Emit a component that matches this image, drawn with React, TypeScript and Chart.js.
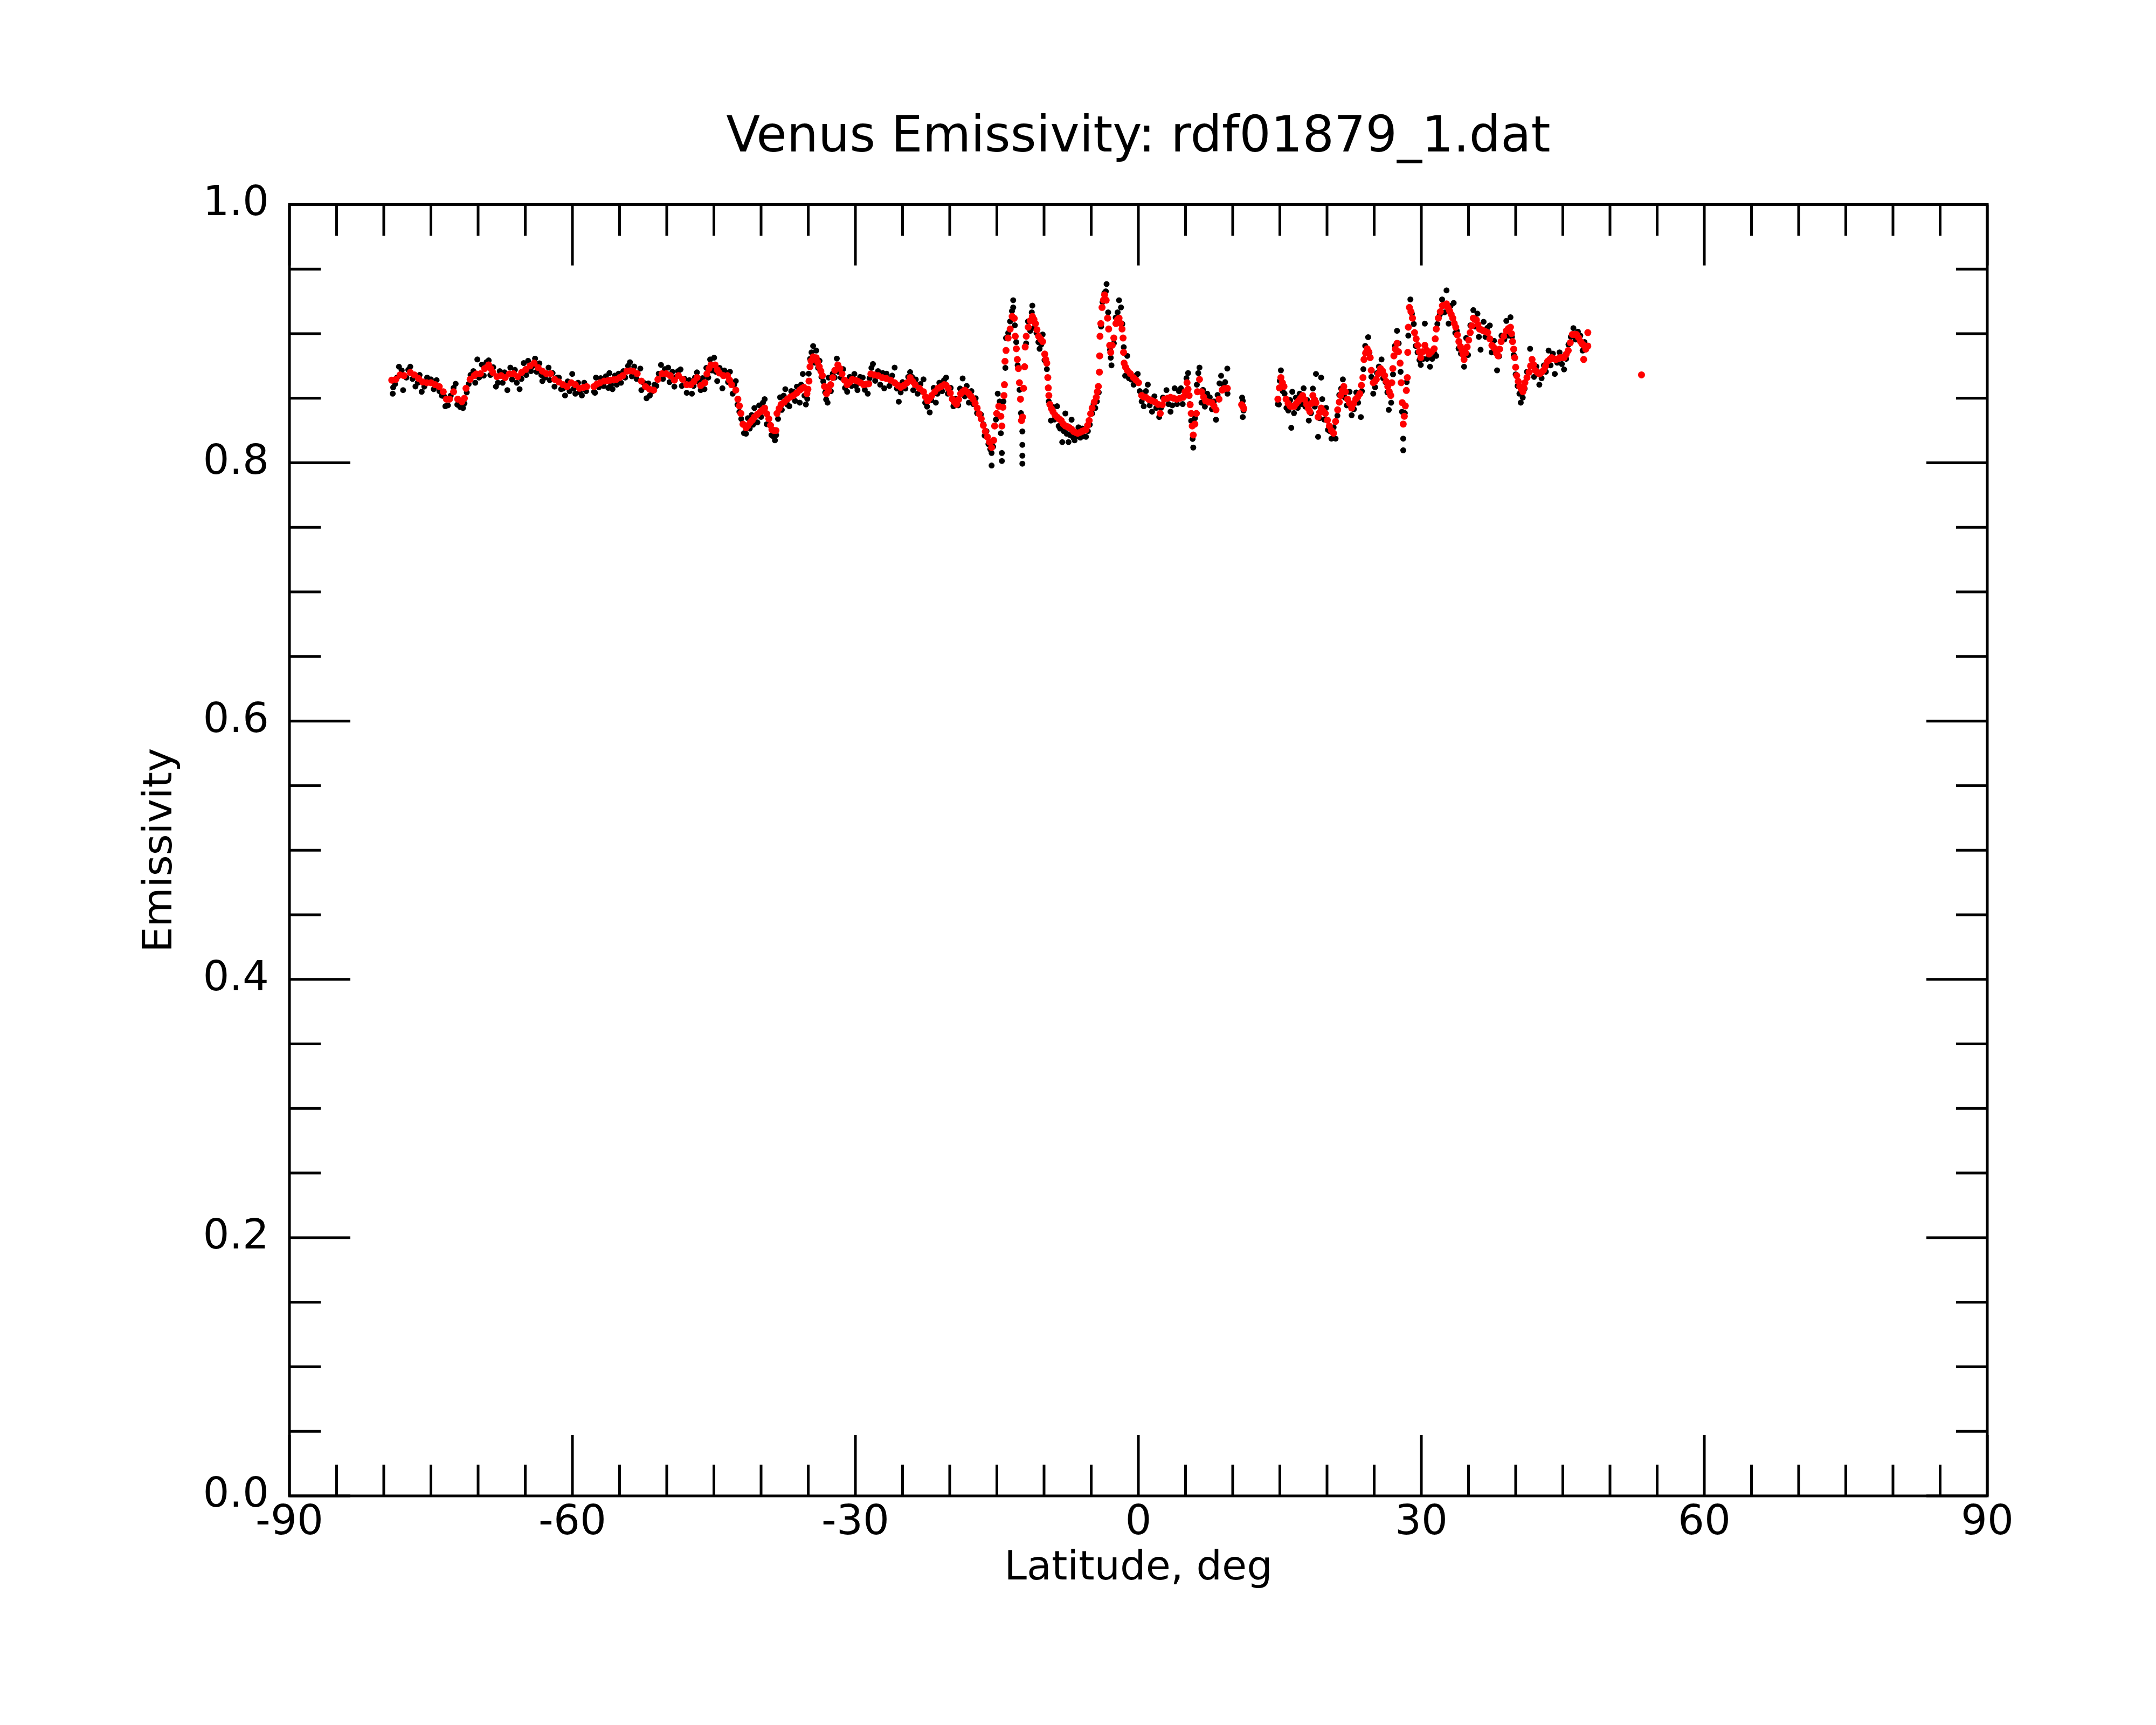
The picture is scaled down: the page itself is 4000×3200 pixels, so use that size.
import { useEffect, useRef } from 'react';
import { Chart, registerables } from 'chart.js';

Chart.register(...registerables);

// latitude (deg), emissivity -- smoothed profile (red)
const smoothA: [number, number][] = [
  [-79.15, 0.864], [-78.72, 0.8646], [-78.28, 0.868], [-77.85, 0.8675], [-77.19, 0.87], [-76.75, 0.868],
  [-76.31, 0.8653], [-75.87, 0.8626], [-75.44, 0.862], [-75.0, 0.862], [-74.56, 0.8605], [-74.12, 0.859],
  [-73.69, 0.855], [-73.36, 0.8493], [-73.03, 0.8493], [-72.6, 0.855], [-72.16, 0.8493], [-71.72, 0.8473],
  [-71.45, 0.85],
  [-71.28, 0.8577], [-70.85, 0.8646], [-70.41, 0.8675], [-70.19, 0.8688], [-69.75, 0.869], [-69.3, 0.873],
  [-68.88, 0.8758], [-68.66, 0.873], [-68.44, 0.87], [-68.0, 0.8667], [-67.56, 0.8675], [-67.13, 0.866],
  [-66.69, 0.8688], [-66.25, 0.869], [-65.8, 0.8667], [-65.38, 0.87], [-64.94, 0.8723], [-64.5, 0.875],
  [-64.06, 0.8772], [-63.63, 0.8737], [-63.19, 0.871], [-62.75, 0.869], [-62.32, 0.869], [-61.88, 0.8646],
  [-61.44, 0.8626], [-61.0, 0.8605], [-60.57, 0.859], [-60.13, 0.862], [-59.69, 0.8605], [-59.25, 0.8577],
  [-58.82, 0.8584], [-58.49, 0.859],
];

const smoothB: [number, number][] = [
  [-57.72, 0.859], [-57.4, 0.861], [-57.07, 0.862], [-56.63, 0.8633], [-56.3, 0.8635], [-55.97, 0.864],
  [-55.65, 0.8643], [-55.32, 0.8646], [-54.99, 0.866], [-54.66, 0.8675], [-54.22, 0.871], [-53.9, 0.8712],
  [-53.57, 0.871], [-53.13, 0.869], [-52.69, 0.8633], [-52.25, 0.859], [-51.82, 0.857], [-51.38, 0.8563],
  [-50.94, 0.8646], [-50.5, 0.869], [-50.07, 0.869], [-49.63, 0.8675], [-49.19, 0.864], [-48.76, 0.8675],
  [-48.32, 0.8646], [-47.88, 0.8605], [-47.44, 0.8605], [-47.1, 0.863], [-46.79, 0.866], [-46.4, 0.8598],
  [-45.96, 0.862], [-45.74, 0.8688], [-45.52, 0.873], [-45.31, 0.8758], [-44.87, 0.8758], [-44.65, 0.872],
  [-44.43, 0.8695], [-43.99, 0.8675], [-43.56, 0.8675], [-43.34, 0.864], [-43.12, 0.8605], [-42.68, 0.8563],
  [-42.46, 0.8493], [-42.3, 0.844], [-42.14, 0.8382], [-41.92, 0.8299], [-41.59, 0.8271], [-41.37, 0.829],
  [-41.15, 0.8313], [-40.93, 0.833], [-40.71, 0.8354], [-40.39, 0.8375], [-40.06, 0.8396], [-39.84, 0.841],
  [-39.62, 0.8424], [-39.4, 0.838], [-39.18, 0.834], [-39.0, 0.829], [-38.85, 0.8257], [-38.63, 0.825],
  [-38.42, 0.825],
  [-38.31, 0.8382], [-38.09, 0.842], [-37.87, 0.8452], [-37.54, 0.847], [-37.21, 0.8493], [-36.88, 0.851],
  [-36.56, 0.8521], [-36.23, 0.854], [-35.9, 0.8563], [-35.69, 0.8575], [-35.47, 0.8584], [-35.14, 0.8535],
  [-35.03, 0.857], [-34.92, 0.8633], [-34.81, 0.8744], [-34.7, 0.879], [-34.48, 0.882], [-34.15, 0.8813],
  [-34.0, 0.878], [-33.83, 0.8744], [-33.66, 0.871], [-33.5, 0.8675], [-33.28, 0.8591], [-33.06, 0.8535],
  [-32.84, 0.856], [-32.62, 0.8605], [-32.4, 0.866], [-32.18, 0.8716], [-31.86, 0.8758], [-31.64, 0.873],
  [-31.42, 0.8688], [-31.15, 0.864], [-30.87, 0.8605], [-30.6, 0.8625], [-30.33, 0.8646], [-30.05, 0.864],
  [-29.78, 0.8633], [-29.45, 0.862], [-29.12, 0.8605], [-28.85, 0.861], [-28.58, 0.8612], [-28.36, 0.8688],
  [-27.97, 0.868], [-27.59, 0.8675], [-27.15, 0.866], [-26.72, 0.8653], [-26.28, 0.864], [-25.84, 0.862],
  [-25.51, 0.86], [-25.19, 0.8584], [-24.86, 0.86], [-24.53, 0.862], [-24.2, 0.866], [-23.93, 0.863],
  [-23.66, 0.8605], [-23.22, 0.8577], [-22.78, 0.855], [-22.56, 0.851], [-22.34, 0.848], [-22.12, 0.85],
  [-21.91, 0.8521], [-21.58, 0.855], [-21.25, 0.8577], [-20.92, 0.859], [-20.59, 0.8605], [-20.38, 0.86],
  [-20.16, 0.8577], [-19.94, 0.854], [-19.72, 0.8493], [-19.5, 0.847], [-19.28, 0.8452], [-19.06, 0.849],
  [-18.84, 0.8535], [-18.63, 0.855], [-18.41, 0.8563], [-18.19, 0.855], [-17.97, 0.8535], [-17.75, 0.8515],
  [-17.53, 0.8493], [-17.31, 0.846], [-17.09, 0.8424], [-16.88, 0.838], [-16.66, 0.834], [-16.44, 0.829],
  [-16.22, 0.8243], [-16.0, 0.82], [-15.78, 0.816], [-15.56, 0.8118], [-15.34, 0.8174], [-15.24, 0.8285],
  [-15.02, 0.8382], [-14.8, 0.8438], [-14.58, 0.836], [-14.47, 0.8285], [-14.36, 0.843], [-14.25, 0.8521],
  [-14.2, 0.8605], [-14.14, 0.8786], [-14.03, 0.887], [-13.81, 0.8966], [-13.59, 0.9036], [-13.38, 0.9133],
  [-13.16, 0.9119], [-13.05, 0.898], [-12.94, 0.8883], [-12.83, 0.88], [-12.72, 0.873], [-12.61, 0.862],
  [-12.5, 0.8493], [-12.39, 0.8327], [-12.28, 0.8354], [-12.17, 0.8577], [-12.06, 0.8744], [-12.0, 0.8897],
];

const smoothC: [number, number][] = [
  [-11.89, 0.898], [-11.68, 0.905], [-11.46, 0.91], [-11.24, 0.9133], [-11.07, 0.911], [-10.91, 0.9078],
  [-10.75, 0.903], [-10.58, 0.898], [-10.37, 0.896], [-10.15, 0.8939], [-9.93, 0.8842], [-9.82, 0.88],
  [-9.71, 0.8772], [-9.6, 0.866], [-9.55, 0.858], [-9.49, 0.8521], [-9.38, 0.8452], [-9.22, 0.842],
  [-9.05, 0.8396], [-8.84, 0.837], [-8.62, 0.8354], [-8.4, 0.834], [-8.18, 0.8327], [-7.96, 0.83],
  [-7.74, 0.8285], [-7.52, 0.828], [-7.3, 0.8271], [-7.08, 0.826], [-6.87, 0.8243], [-6.65, 0.8235],
  [-6.43, 0.8229], [-6.21, 0.8235], [-5.99, 0.8243], [-5.77, 0.825], [-5.55, 0.8257], [-5.38, 0.829],
  [-5.22, 0.8327], [-5.06, 0.838], [-4.9, 0.8424], [-4.68, 0.847], [-4.46, 0.8507], [-4.35, 0.855],
  [-4.24, 0.8591], [-4.13, 0.8702], [-4.1, 0.8828], [-4.07, 0.898], [-3.98, 0.9078], [-3.85, 0.9203],
  [-3.7, 0.926], [-3.58, 0.93], [-3.41, 0.9259], [-3.26, 0.912], [-3.15, 0.9036], [-3.04, 0.891],
  [-2.93, 0.8855], [-2.77, 0.891], [-2.6, 0.8966], [-2.38, 0.9078], [-2.21, 0.911], [-2.05, 0.912],
  [-1.89, 0.908], [-1.73, 0.9036], [-1.62, 0.8966], [-1.57, 0.8855], [-1.51, 0.8772], [-1.35, 0.874],
  [-1.18, 0.8716], [-0.85, 0.869], [-0.52, 0.866], [-0.25, 0.864], [0.02, 0.862], [0.35, 0.8521],
  [0.57, 0.851], [0.79, 0.8507], [1.12, 0.849], [1.45, 0.848], [1.78, 0.847], [2.1, 0.8452],
  [2.32, 0.8382], [2.54, 0.845], [2.76, 0.8493], [3.09, 0.85], [3.41, 0.8507], [3.74, 0.85],
  [4.07, 0.8493], [4.4, 0.85], [4.73, 0.8507], [4.95, 0.855], [5.16, 0.862], [5.27, 0.857],
  [5.38, 0.8521], [5.49, 0.845], [5.6, 0.8382], [5.71, 0.8285], [5.82, 0.8215], [5.99, 0.83],
  [6.15, 0.8382], [6.26, 0.855], [6.48, 0.8646], [6.69, 0.855], [6.91, 0.851], [7.13, 0.848],
  [7.46, 0.847], [7.79, 0.8466], [8.01, 0.844], [8.23, 0.841], [8.55, 0.8493], [8.88, 0.8563],
  [9.1, 0.8575], [9.43, 0.8577],
  [10.95, 0.845], [11.07, 0.8438], [11.18, 0.842],
];

const smoothD: [number, number][] = [
  [14.79, 0.8493], [14.95, 0.858], [15.11, 0.866], [15.27, 0.862], [15.44, 0.8591], [15.66, 0.8493],
  [15.88, 0.846], [16.1, 0.8438], [16.32, 0.8438], [16.53, 0.8438], [16.75, 0.846], [16.97, 0.848],
  [17.19, 0.85], [17.41, 0.8521], [17.63, 0.849], [17.85, 0.8452], [18.02, 0.842], [18.18, 0.8396],
  [18.34, 0.846], [18.5, 0.8521], [18.67, 0.849], [18.83, 0.8466], [19.05, 0.8354], [19.22, 0.839],
  [19.38, 0.8424], [19.6, 0.84], [19.82, 0.8382], [20.04, 0.833], [20.25, 0.8285], [20.47, 0.825],
  [20.69, 0.8229], [20.91, 0.832], [21.13, 0.841], [21.3, 0.847], [21.46, 0.8521], [21.62, 0.856],
  [21.78, 0.8591], [21.95, 0.855], [22.17, 0.8493], [22.39, 0.846], [22.61, 0.8424], [22.83, 0.846],
  [23.05, 0.8493], [23.26, 0.851], [23.48, 0.8535], [23.65, 0.86], [23.81, 0.866], [23.92, 0.88],
  [24.09, 0.885], [24.25, 0.8883], [24.42, 0.886], [24.58, 0.8814], [24.69, 0.8716], [24.9, 0.862],
  [25.07, 0.863], [25.23, 0.8646], [25.45, 0.869], [25.67, 0.873], [25.89, 0.871], [26.11, 0.8675],
  [26.27, 0.863], [26.44, 0.8591], [26.6, 0.855], [26.76, 0.8521], [26.87, 0.862], [26.98, 0.873],
  [27.09, 0.8828], [27.25, 0.888], [27.42, 0.8925], [27.58, 0.886], [27.75, 0.8772], [27.86, 0.862],
  [27.97, 0.8466], [28.08, 0.83], [28.19, 0.836], [28.3, 0.844], [28.41, 0.856], [28.51, 0.866],
  [28.56, 0.8855], [28.62, 0.905], [28.73, 0.9203], [28.9, 0.917], [29.06, 0.912], [29.28, 0.9008],
  [29.45, 0.896], [29.61, 0.891], [29.78, 0.886], [29.94, 0.8814], [30.15, 0.886], [30.37, 0.891],
  [30.59, 0.887], [30.81, 0.8842], [31.08, 0.886], [31.36, 0.8883], [31.47, 0.896], [31.58, 0.9036],
  [31.8, 0.912], [32.01, 0.917], [32.23, 0.9217], [32.45, 0.922], [32.67, 0.923], [32.84, 0.92],
  [33.0, 0.9175], [33.16, 0.915], [33.33, 0.912], [33.49, 0.908], [33.65, 0.905], [33.82, 0.899],
  [33.98, 0.8939], [34.15, 0.89], [34.31, 0.887], [34.42, 0.884], [34.53, 0.88], [34.7, 0.885],
  [34.86, 0.8897], [35.02, 0.895], [35.18, 0.9008], [35.35, 0.906], [35.51, 0.912], [35.67, 0.911],
  [35.84, 0.9106], [36.0, 0.907], [36.17, 0.9036], [36.39, 0.903], [36.6, 0.9022], [36.82, 0.9015],
  [37.04, 0.9008], [37.26, 0.896], [37.48, 0.891], [37.65, 0.8895], [37.81, 0.8883], [37.97, 0.885],
  [38.14, 0.8828], [38.3, 0.888], [38.46, 0.8939], [38.74, 0.898], [39.01, 0.9022], [39.23, 0.904],
  [39.45, 0.905], [39.56, 0.9], [39.67, 0.8939], [39.79, 0.888], [39.9, 0.8814], [40.0, 0.874],
  [40.11, 0.8675], [40.27, 0.863], [40.43, 0.8591], [40.6, 0.857], [40.76, 0.855], [40.87, 0.858],
  [40.98, 0.862], [41.2, 0.866], [41.42, 0.8702], [41.58, 0.875], [41.74, 0.88], [41.9, 0.876],
  [42.07, 0.8716], [42.29, 0.87], [42.51, 0.8688], [42.73, 0.87], [42.95, 0.8716], [43.17, 0.875],
  [43.39, 0.8786], [43.61, 0.88], [43.82, 0.8814], [44.04, 0.8805], [44.26, 0.88], [44.48, 0.8805],
  [44.7, 0.8814], [44.92, 0.8814], [45.13, 0.8814], [45.35, 0.884], [45.57, 0.8869], [45.79, 0.893],
  [46.01, 0.8994], [46.23, 0.8994], [46.45, 0.8994], [46.66, 0.897], [46.88, 0.8939], [47.05, 0.892],
  [47.21, 0.891], [47.21, 0.88], [47.43, 0.888], [47.65, 0.9008], [47.65, 0.8904],
  [53.34, 0.8681],
];

// latitude (deg), emissivity -- raw samples (black)
const rawA: [number, number][] = [
  [-79.05, 0.8535], [-79.0, 0.8584], [-78.8, 0.861], [-78.6, 0.866], [-78.39, 0.8744], [-78.1, 0.8715],
  [-77.95, 0.8563], [-77.6, 0.866], [-77.4, 0.872], [-77.19, 0.8744], [-76.95, 0.865], [-76.64, 0.8591],
  [-76.4, 0.862], [-76.2, 0.868], [-75.98, 0.855], [-75.7, 0.859], [-75.4, 0.866], [-75.0, 0.8646],
  [-74.7, 0.857], [-74.4, 0.864], [-74.1, 0.8555], [-73.85, 0.852], [-73.6, 0.8515], [-73.47, 0.8438],
  [-73.2, 0.8445], [-72.9, 0.852], [-72.6, 0.858], [-72.38, 0.8612], [-72.2, 0.845], [-71.9, 0.8432],
  [-71.6, 0.8424], [-71.45, 0.846],
  [-71.2, 0.8545], [-71.0, 0.861], [-70.8, 0.868], [-70.5, 0.871], [-70.3, 0.862], [-70.08, 0.88],
  [-69.9, 0.866], [-69.6, 0.876], [-69.4, 0.8675], [-69.1, 0.878], [-68.88, 0.8793], [-68.7, 0.868],
  [-68.4, 0.874], [-68.11, 0.859], [-67.9, 0.862], [-67.7, 0.871], [-67.4, 0.862], [-67.2, 0.87],
  [-66.9, 0.8563], [-66.58, 0.8737], [-66.4, 0.8645], [-66.1, 0.872], [-65.9, 0.862], [-65.6, 0.857],
  [-65.4, 0.865], [-65.16, 0.8772], [-64.9, 0.868], [-64.7, 0.879], [-64.4, 0.871], [-64.2, 0.875],
  [-63.96, 0.8807], [-63.8, 0.8705], [-63.5, 0.877], [-63.3, 0.868], [-63.19, 0.8633], [-62.9, 0.866],
  [-62.53, 0.8737], [-62.4, 0.864], [-62.1, 0.8695], [-61.9, 0.859], [-61.6, 0.866], [-61.44, 0.866],
  [-61.2, 0.857], [-61.0, 0.8575], [-60.78, 0.8521], [-60.5, 0.863], [-60.3, 0.8555], [-60.02, 0.8688],
  [-59.85, 0.8575], [-59.69, 0.8535], [-59.4, 0.862], [-59.2, 0.8545], [-59.0, 0.8521], [-58.75, 0.862],
  [-58.55, 0.8555],
];

const rawB: [number, number][] = [
  [-57.7, 0.855], [-57.61, 0.8542], [-57.5, 0.866], [-57.2, 0.8585], [-57.0, 0.8655], [-56.7, 0.8595],
  [-56.45, 0.867], [-56.2, 0.858], [-56.08, 0.8695], [-55.9, 0.8605], [-55.75, 0.857], [-55.5, 0.8675],
  [-55.3, 0.8605], [-55.1, 0.869], [-54.85, 0.862], [-54.6, 0.871], [-54.4, 0.866], [-54.1, 0.875],
  [-53.9, 0.8779], [-53.7, 0.867], [-53.45, 0.8745], [-53.2, 0.865], [-52.8, 0.873], [-52.69, 0.8563],
  [-52.45, 0.862], [-52.14, 0.85], [-51.95, 0.8615], [-51.8, 0.852], [-51.6, 0.855], [-51.3, 0.8605],
  [-51.1, 0.8595], [-50.85, 0.869], [-50.61, 0.8758], [-50.4, 0.865], [-50.2, 0.8725], [-49.85, 0.8737],
  [-49.7, 0.8625], [-49.4, 0.8705], [-49.19, 0.859], [-49.0, 0.8665], [-48.8, 0.871], [-48.54, 0.8723],
  [-48.4, 0.8595], [-48.1, 0.865], [-47.88, 0.8542], [-47.6, 0.864], [-47.33, 0.8535], [-47.15, 0.8595],
  [-47.0, 0.866], [-46.8, 0.87], [-46.6, 0.8625], [-46.4, 0.8563], [-46.2, 0.8655], [-46.0, 0.857],
  [-45.8, 0.8735], [-45.6, 0.866], [-45.4, 0.88], [-45.2, 0.8715], [-44.98, 0.8814], [-44.8, 0.8705],
  [-44.65, 0.8633], [-44.4, 0.8735], [-44.1, 0.8577], [-43.9, 0.8715], [-43.78, 0.8702], [-43.5, 0.8625],
  [-43.3, 0.8705], [-43.01, 0.8535], [-42.85, 0.8605], [-42.68, 0.8633], [-42.5, 0.845], [-42.3, 0.8395],
  [-42.1, 0.834], [-41.81, 0.823], [-41.6, 0.8225], [-41.4, 0.8345], [-41.2, 0.8265], [-41.0, 0.837],
  [-40.85, 0.8295], [-40.71, 0.8424], [-40.39, 0.8313], [-40.2, 0.8445], [-40.0, 0.8355], [-39.8, 0.8465],
  [-39.62, 0.8493], [-39.4, 0.8299], [-39.1, 0.8295], [-38.9, 0.8215], [-38.7, 0.8205], [-38.53, 0.8174],
  [-38.4, 0.8215],
  [-38.2, 0.834], [-37.98, 0.8507], [-37.8, 0.841], [-37.6, 0.852], [-37.43, 0.857], [-37.2, 0.845],
  [-37.0, 0.8438], [-36.8, 0.8555], [-36.56, 0.855], [-36.4, 0.848], [-36.2, 0.859], [-35.9, 0.8466],
  [-35.75, 0.8605], [-35.57, 0.8688], [-35.4, 0.852], [-35.25, 0.8452], [-35.1, 0.8495], [-34.95, 0.869],
  [-34.8, 0.8805], [-34.65, 0.8855], [-34.48, 0.8904], [-34.3, 0.8775], [-34.15, 0.8869], [-33.95, 0.8735],
  [-33.8, 0.879], [-33.6, 0.8665], [-33.4, 0.863], [-33.2, 0.8545], [-33.1, 0.849], [-32.95, 0.8466],
  [-32.84, 0.866], [-32.6, 0.8555], [-32.4, 0.869], [-32.2, 0.866], [-31.97, 0.8807], [-31.8, 0.8705],
  [-31.53, 0.866], [-31.3, 0.8725], [-31.1, 0.858], [-30.87, 0.855], [-30.6, 0.8665], [-30.4, 0.8595],
  [-30.11, 0.8688], [-29.95, 0.8595], [-29.78, 0.8563], [-29.5, 0.8665], [-29.23, 0.866], [-29.0, 0.8565],
  [-28.69, 0.8535], [-28.5, 0.8655], [-28.3, 0.8735], [-28.14, 0.8765], [-27.9, 0.8635], [-27.6, 0.871],
  [-27.37, 0.8605], [-27.1, 0.8695], [-26.94, 0.8577], [-26.7, 0.869], [-26.4, 0.8595], [-26.1, 0.8675],
  [-25.84, 0.8737], [-25.6, 0.8575], [-25.4, 0.8473], [-25.2, 0.8545], [-25.0, 0.8625], [-24.7, 0.8575],
  [-24.4, 0.8665], [-24.2, 0.8702], [-24.0, 0.8665], [-23.87, 0.8563], [-23.6, 0.8645], [-23.4, 0.8535],
  [-23.1, 0.861], [-22.78, 0.8646], [-22.6, 0.8465], [-22.4, 0.8435], [-22.12, 0.839], [-21.95, 0.8485],
  [-21.7, 0.858], [-21.47, 0.8466], [-21.3, 0.8535], [-21.1, 0.862], [-20.8, 0.8555], [-20.6, 0.864],
  [-20.38, 0.866], [-20.2, 0.8535], [-19.9, 0.858], [-19.61, 0.8438], [-19.4, 0.8495], [-19.1, 0.8445],
  [-18.9, 0.8575], [-18.63, 0.8653], [-18.4, 0.8515], [-18.2, 0.8595], [-17.97, 0.8466], [-17.7, 0.8555],
  [-17.5, 0.8455], [-17.25, 0.85], [-17.1, 0.8385], [-16.88, 0.8382], [-16.7, 0.8375], [-16.44, 0.8299],
  [-16.3, 0.821], [-16.1, 0.8245], [-15.9, 0.8145], [-15.7, 0.8105], [-15.56, 0.8076], [-15.56, 0.7979],
  [-15.4, 0.8125], [-15.1, 0.8335], [-14.91, 0.8535], [-14.7, 0.8475], [-14.58, 0.8229], [-14.47, 0.8076],
  [-14.47, 0.8014], [-14.3, 0.8475], [-14.1, 0.8735], [-14.03, 0.8966], [-13.8, 0.9005], [-13.6, 0.9095],
  [-13.4, 0.9175], [-13.27, 0.9259], [-13.27, 0.9203], [-13.1, 0.9065], [-12.95, 0.8935], [-12.8, 0.8755],
  [-12.6, 0.8565], [-12.45, 0.8385], [-12.3, 0.8243], [-12.3, 0.8139], [-12.3, 0.8055], [-12.3, 0.7993],
];

const rawC: [number, number][] = [
  [-11.9, 0.8925], [-11.7, 0.9095], [-11.46, 0.9022], [-11.3, 0.9165], [-11.24, 0.9217], [-11.05, 0.9045],
  [-10.8, 0.9005], [-10.6, 0.8935], [-10.47, 0.8883], [-10.3, 0.8915], [-10.15, 0.8994], [-9.95, 0.8795],
  [-9.7, 0.8725], [-9.5, 0.8475], [-9.27, 0.8327], [-9.1, 0.8435], [-8.9, 0.8335], [-8.62, 0.8438],
  [-8.45, 0.8285], [-8.3, 0.8265], [-8.07, 0.816], [-7.9, 0.8245], [-7.74, 0.8382], [-7.6, 0.8225],
  [-7.41, 0.816], [-7.25, 0.8215], [-7.08, 0.8334], [-6.9, 0.8195], [-6.76, 0.8174], [-6.55, 0.8205],
  [-6.35, 0.8275], [-6.15, 0.8195], [-5.95, 0.8265], [-5.75, 0.8205], [-5.55, 0.8201], [-5.35, 0.8245],
  [-5.15, 0.8295], [-4.9, 0.8382], [-4.75, 0.8455], [-4.57, 0.8424], [-4.4, 0.8475], [-4.2, 0.8545],
  [-3.95, 0.9055], [-3.8, 0.9245], [-3.6, 0.9315], [-3.45, 0.9328], [-3.37, 0.9384], [-3.2, 0.9165],
  [-3.0, 0.8875], [-2.93, 0.8814], [-2.85, 0.8755], [-2.6, 0.8925], [-2.4, 0.9125], [-2.2, 0.9165],
  [-2.05, 0.9259], [-1.84, 0.9203], [-1.7, 0.9075], [-1.55, 0.8895], [-1.4, 0.8674], [-1.18, 0.8828],
  [-1.0, 0.8655], [-0.75, 0.8645], [-0.5, 0.8605], [-0.25, 0.8675], [-0.07, 0.8688], [0.15, 0.8555],
  [0.35, 0.8475], [0.57, 0.8438], [0.8, 0.8555], [1.0, 0.8605], [1.2, 0.8445], [1.45, 0.8396],
  [1.7, 0.8515], [1.9, 0.8425], [2.21, 0.8354], [2.4, 0.8425], [2.6, 0.8505], [2.98, 0.8563],
  [3.2, 0.8455], [3.41, 0.8396], [3.6, 0.8445], [3.85, 0.8577], [4.1, 0.8455], [4.3, 0.8555],
  [4.51, 0.8577], [4.7, 0.8455], [4.9, 0.8515], [5.1, 0.8655], [5.27, 0.8695], [5.45, 0.8455],
  [5.6, 0.8325], [5.75, 0.8185], [5.82, 0.8118], [6.0, 0.8345], [6.2, 0.8605], [6.35, 0.8695],
  [6.48, 0.8737], [6.69, 0.8466], [6.85, 0.8565], [7.05, 0.8435], [7.3, 0.8535], [7.57, 0.8507],
  [7.8, 0.8415], [8.0, 0.8475], [8.23, 0.8334], [8.4, 0.8525], [8.6, 0.8615], [8.77, 0.8674],
  [8.99, 0.8605], [9.2, 0.8625], [9.43, 0.873], [9.45, 0.8535],
  [11.0, 0.8505], [11.07, 0.848], [11.07, 0.8354], [11.15, 0.8405],
];

const rawD: [number, number][] = [
  [14.79, 0.8455], [14.89, 0.8452], [15.0, 0.8635], [15.11, 0.8716], [15.3, 0.8555], [15.5, 0.8535],
  [15.7, 0.8425], [15.9, 0.8405], [16.1, 0.8485], [16.21, 0.8271], [16.32, 0.855], [16.5, 0.8385],
  [16.7, 0.8505], [16.9, 0.8425], [17.1, 0.8535], [17.3, 0.8455], [17.52, 0.8577], [17.7, 0.8435],
  [17.9, 0.8485], [18.07, 0.8327], [18.3, 0.8385], [18.5, 0.8575], [18.7, 0.8435], [18.83, 0.8688],
  [19.05, 0.8201], [19.2, 0.8345], [19.38, 0.866], [19.49, 0.8493], [19.7, 0.8335], [19.9, 0.8425],
  [20.1, 0.8255], [20.3, 0.8245], [20.47, 0.8187], [20.7, 0.8275], [20.91, 0.8187], [21.1, 0.8365],
  [21.3, 0.8525], [21.5, 0.8575], [21.68, 0.8646], [21.9, 0.8505],
  [22.1, 0.8445], [22.39, 0.855], [22.61, 0.8368], [22.85, 0.8415], [23.1, 0.8545], [23.3, 0.8465],
  [23.59, 0.8354], [23.7, 0.8555], [23.85, 0.8725], [24.05, 0.8905], [24.36, 0.8973], [24.5, 0.8855],
  [24.7, 0.8665], [24.9, 0.8535], [25.1, 0.8585], [25.3, 0.8695], [25.5, 0.8745], [25.78, 0.88],
  [25.95, 0.8655], [26.2, 0.8625], [26.4, 0.8545], [26.55, 0.841], [26.8, 0.8465], [27.0, 0.8685],
  [27.2, 0.8905], [27.42, 0.9022], [27.6, 0.8925], [27.8, 0.8705], [27.95, 0.8395], [28.08, 0.8187],
  [28.08, 0.8097], [28.25, 0.8385], [28.45, 0.8625], [28.62, 0.8985], [28.84, 0.9265], [29.0, 0.9155],
  [29.2, 0.9075], [29.4, 0.8905], [29.6, 0.8855], [29.8, 0.8795], [29.94, 0.8758], [30.2, 0.8805],
  [30.37, 0.9078], [30.6, 0.8805], [30.92, 0.8744], [31.15, 0.8805], [31.4, 0.8845], [31.58, 0.8828],
  [31.7, 0.9075], [31.95, 0.9145], [32.2, 0.9265], [32.45, 0.9165], [32.67, 0.9335], [32.89, 0.9078],
  [33.1, 0.9215], [33.43, 0.9238], [33.6, 0.9005], [33.76, 0.9022], [33.95, 0.8885], [34.2, 0.8845],
  [34.53, 0.8744], [34.75, 0.8966], [34.95, 0.8835], [35.2, 0.9065], [35.51, 0.9182], [35.7, 0.9055],
  [35.95, 0.9155], [36.1, 0.8975], [36.28, 0.8876], [36.6, 0.9092], [36.8, 0.8975], [37.0, 0.9045],
  [37.26, 0.9064], [37.45, 0.8855], [37.7, 0.8945], [38.03, 0.8716], [38.25, 0.8825], [38.5, 0.8985],
  [38.8, 0.8955], [39.01, 0.9099], [39.2, 0.8985], [39.45, 0.9127], [39.6, 0.8975], [39.8, 0.8835],
  [40.0, 0.8685], [40.2, 0.8595], [40.4, 0.8535], [40.54, 0.8466], [40.75, 0.8505], [40.95, 0.8575],
  [41.2, 0.8705], [41.53, 0.8883], [41.7, 0.8755], [41.95, 0.8665], [42.2, 0.8745], [42.51, 0.8605],
  [42.75, 0.8655], [43.0, 0.8755], [43.2, 0.8705], [43.49, 0.8869], [43.7, 0.8755], [43.95, 0.8845],
  [44.15, 0.8688], [44.4, 0.8775], [44.65, 0.8855], [44.9, 0.8765], [45.13, 0.8723], [45.35, 0.8805],
  [45.6, 0.8915], [45.85, 0.8975], [46.12, 0.9043], [46.35, 0.8955], [46.6, 0.9015], [46.85, 0.8985],
  [47.1, 0.8869], [47.3, 0.8935],
];

const xTickLabels = [-90, -60, -30, 0, 30, 60, 90];
const yTickLabels = ['0.0', '0.2', '0.4', '0.6', '0.8', '1.0'];

const toXY = (pts: [number, number][]) => pts.map(([x, y]) => ({ x, y }));

const FONT = 'DejaVu Sans';

// inward ticks on all four sides plus the box
const frameTicks = {
  id: 'frameTicks',
  afterDatasetsDraw(chart: any) {
    const { ctx, chartArea: a, scales } = chart;
    const xs = scales.x;
    const ys = scales.y;
    ctx.save();
    ctx.strokeStyle = '#000';
    ctx.lineWidth = 5;
    ctx.beginPath();
    for (let i = 0; i <= 36; i++) {
      const px = xs.getPixelForValue(-90 + i * 5);
      const len = i % 6 === 0 ? 113 : 58;
      ctx.moveTo(px, a.bottom);
      ctx.lineTo(px, a.bottom - len);
      ctx.moveTo(px, a.top);
      ctx.lineTo(px, a.top + len);
    }
    for (let i = 0; i <= 20; i++) {
      const py = ys.getPixelForValue(i * 0.05);
      const len = i % 4 === 0 ? 113 : 58;
      ctx.moveTo(a.left, py);
      ctx.lineTo(a.left + len, py);
      ctx.moveTo(a.right, py);
      ctx.lineTo(a.right - len, py);
    }
    ctx.stroke();
    ctx.strokeRect(a.left, a.top, a.right - a.left, a.bottom - a.top);
    ctx.restore();
  },
};

const App = () => {
  const canvasRef = useRef<HTMLCanvasElement | null>(null);
  const chartRef = useRef<Chart | null>(null);

  useEffect(() => {
    document.body.style.margin = '0';
    if (!canvasRef.current) return;
    const ctx = canvasRef.current.getContext('2d');
    if (!ctx) return;

    if (chartRef.current) chartRef.current.destroy();

    chartRef.current = new Chart(ctx, {
      type: 'scatter',
      data: {
        datasets: [
          {
            label: 'smoothed',
            data: toXY([...smoothA, ...smoothB, ...smoothC, ...smoothD]),
            backgroundColor: '#ff0000',
            borderWidth: 0,
            pointRadius: 6.5,
            order: 0,
          },
          {
            label: 'raw',
            data: toXY([...rawA, ...rawB, ...rawC, ...rawD]),
            backgroundColor: '#000000',
            borderWidth: 0,
            pointRadius: 5.5,
            order: 1,
          },
        ],
      },
      options: {
        animation: false,
        responsive: false,
        devicePixelRatio: 1,
        layout: { padding: { left: 0, right: 313, top: 0, bottom: 0 } },
        plugins: {
          legend: { display: false },
          tooltip: { enabled: false },
          title: {
            display: true,
            text: 'Venus Emissivity: rdf01879_1.dat',
            color: '#000',
            fullSize: false,
            font: { family: FONT, size: 92, weight: 'normal' },
            padding: { top: 202, bottom: 67 },
          },
        },
        scales: {
          x: {
            type: 'linear',
            min: -90,
            max: 90,
            grid: { display: false, drawTicks: false },
            border: { display: false },
            ticks: {
              stepSize: 30,
              autoSkip: false,
              maxRotation: 0,
              padding: 5,
              color: '#000',
              font: { family: FONT, size: 77 },
              callback: (v: any) => (xTickLabels.includes(Number(v)) ? String(v) : ''),
            },
            title: {
              display: true,
              text: 'Latitude, deg',
              color: '#000',
              font: { family: FONT, size: 75 },
              padding: { top: 0, bottom: 244 },
            },
            afterFit: (s: any) => {
              s.height = 425;
            },
          },
          y: {
            type: 'linear',
            min: 0,
            max: 1,
            grid: { display: false, drawTicks: false },
            border: { display: false },
            ticks: {
              stepSize: 0.2,
              padding: 38,
              color: '#000',
              font: { family: FONT, size: 77 },
              callback: (v: any) => yTickLabels[Math.round(Number(v) * 5)] ?? '',
            },
            title: {
              display: true,
              text: 'Emissivity',
              color: '#000',
              font: { family: FONT, size: 75 },
              padding: { top: 254, bottom: 0 },
            },
            afterFit: (s: any) => {
              s.width = 537;
            },
          },
        },
      },
      plugins: [frameTicks],
    });

    return () => {
      if (chartRef.current) {
        chartRef.current.destroy();
        chartRef.current = null;
      }
    };
  }, []);

  return (
    <div style={{ width: 4000, height: 3200, background: '#fff' }}>
      <canvas ref={canvasRef} width={4000} height={3200} style={{ width: 4000, height: 3200, display: 'block' }} />
    </div>
  );
};

export default App;
